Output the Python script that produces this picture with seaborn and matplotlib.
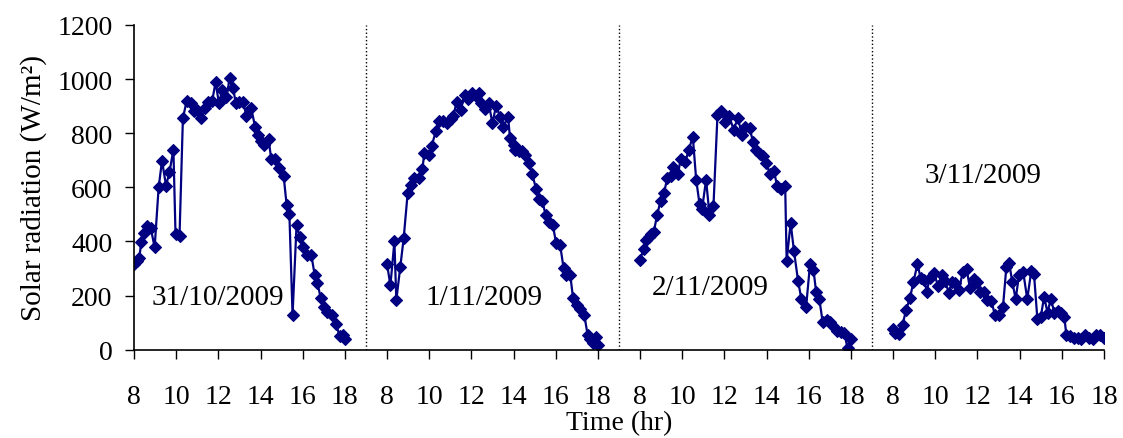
import seaborn as sns
import matplotlib.pyplot as plt
import pandas as pd
import numpy as np

# --- data (hour of day, W/m2) ---
dias = ["31/10/2009", "1/11/2009", "2/11/2009", "3/11/2009"]

d1_hr = [8.0, 8.16, 8.25, 8.35, 8.48, 8.6, 8.8, 8.98, 9.17, 9.33, 9.52, 9.68, 9.87, 9.97,
         10.16, 10.32, 10.5, 10.7, 10.86, 11.0, 11.2, 11.37, 11.52, 11.71, 11.87, 12.03,
         12.19, 12.38, 12.54, 12.7, 12.83, 13.0, 13.17, 13.33, 13.56, 13.75, 13.87, 14.0,
         14.16, 14.38, 14.51, 14.7, 14.9, 15.1, 15.24, 15.37, 15.52, 15.71, 15.87, 16.03,
         16.19, 16.41, 16.57, 16.7, 16.86, 17.0, 17.17, 17.4, 17.59, 17.75, 17.9, 18.0]
d1_val = [316, 329, 339, 399, 433, 458, 448, 378, 600, 698, 606, 655, 739, 427,
          421, 855, 920, 910, 883, 887, 855, 892, 916, 920, 988, 910,
          961, 932, 1004, 966, 910, 914, 914, 865, 892, 821, 793, 772,
          756, 778, 704, 704, 670, 640, 534, 501, 128, 462, 415, 378,
          350, 350, 276, 246, 190, 156, 138, 128, 95, 49, 54, 39]

d2_hr = [8.0, 8.16, 8.35, 8.44, 8.63, 8.79, 8.98, 9.14, 9.3, 9.52, 9.68, 9.77, 9.97,
         10.12, 10.31, 10.47, 10.66, 10.85, 11.01, 11.14, 11.3, 11.49, 11.68, 11.84, 12.03,
         12.22, 12.34, 12.47, 12.63, 12.82, 13.0, 13.17, 13.36, 13.52, 13.74, 13.83, 14.0,
         14.09, 14.25, 14.41, 14.56, 14.72, 14.88, 15.07, 15.23, 15.36, 15.52, 15.67, 15.86,
         16.02, 16.21, 16.37, 16.5, 16.69, 16.82, 17.0, 17.16, 17.35, 17.51, 17.64, 17.76,
         17.89, 18.0]
d2_val = [316, 238, 400, 183, 307, 412, 580, 607, 634, 634, 669, 728, 718,
          753, 807, 845, 845, 836, 852, 864, 914, 885, 941, 926, 947,
          939, 947, 910, 889, 910, 836, 902, 861, 824, 861, 783, 755,
          737, 733, 733, 721, 691, 650, 594, 555, 551, 498, 471, 461,
          394, 386, 303, 275, 275, 192, 167, 149, 130, 56, 40, 25,
          47, 19]

d3_hr = [8.0, 8.17, 8.27, 8.4, 8.52, 8.65, 8.81, 8.97, 9.13, 9.29, 9.45, 9.57, 9.8, 9.92,
         10.15, 10.31, 10.5, 10.66, 10.82, 10.94, 11.13, 11.29, 11.48, 11.67, 11.83, 12.02,
         12.21, 12.44, 12.63, 12.85, 12.98, 13.2, 13.36, 13.52, 13.68, 13.83, 13.99, 14.15,
         14.34, 14.5, 14.66, 14.88, 14.95, 15.14, 15.3, 15.49, 15.65, 15.87, 16.06, 16.22,
         16.35, 16.5, 16.66, 16.86, 17.01, 17.17, 17.33, 17.52, 17.68, 17.84, 18.0]
d3_val = [333, 372, 405, 415, 427, 436, 498, 550, 579, 633, 640, 674, 649, 704,
          695, 739, 787, 628, 538, 520, 628, 498, 532, 867, 883, 842,
          865, 813, 855, 793, 821, 818, 766, 739, 723, 717, 690, 649,
          661, 606, 594, 606, 329, 468, 363, 255, 187, 156, 317, 296,
          212, 187, 101, 111, 101, 89, 70, 64, 62, 5, 39]

d4_hr = [8.0, 8.1, 8.29, 8.45, 8.61, 8.8, 8.96, 9.15, 9.31, 9.47, 9.6, 9.73, 9.92,
         10.14, 10.3, 10.46, 10.65, 10.78, 10.94, 11.13, 11.29, 11.48, 11.64, 11.83, 11.96,
         12.12, 12.31, 12.47, 12.66, 12.82, 13.02, 13.21, 13.37, 13.5, 13.65, 13.81, 13.97,
         14.17, 14.36, 14.55, 14.68, 14.84, 15.0, 15.16, 15.32, 15.48, 15.64, 15.8, 15.96,
         16.12, 16.21, 16.37, 16.56, 16.75, 16.91, 17.11, 17.27, 17.46, 17.62, 17.81, 18.0]
d4_val = [78, 63, 59, 93, 146, 192, 249, 316, 264, 258, 214, 266, 282,
          237, 276, 254, 208, 249, 245, 220, 286, 298, 229, 261, 249,
          214, 214, 183, 180, 130, 130, 159, 307, 320, 251, 187, 276,
          286, 187, 291, 279, 113, 121, 196, 137, 189, 137, 142, 134,
          121, 56, 51, 43, 43, 41, 53, 43, 41, 53, 56, 43]

# posicion del texto de cada dia (hora, W/m2)
txt_hr = [8.85, 9.8, 8.55, 9.5]
txt_val = [195, 195, 231, 645]

y_ticks = [0, 200, 400, 600, 800, 1000, 1200]
hour_labels = ["8", "10", "12", "14", "16", "18"]

# --- armar DataFrame (cada dia desplazado 12 h en el eje) ---
horas = [d1_hr, d2_hr, d3_hr, d4_hr]
valores = [d1_val, d2_val, d3_val, d4_val]
frames = []
for i, (h, v) in enumerate(zip(horas, valores)):
    frames.append(pd.DataFrame({"t": np.array(h) + 12 * i, "rad": v, "dia": dias[i]}))
df = pd.concat(frames, ignore_index=True)

sns.set_style("ticks")
plt.rcParams['font.family'] = ['Liberation Serif', 'DejaVu Serif']
plt.rcParams['text.color'] = 'black'
plt.rcParams['axes.labelcolor'] = 'black'
plt.rcParams['xtick.color'] = 'black'
plt.rcParams['ytick.color'] = 'black'

fig = plt.figure(figsize=(11.23, 4.39), dpi=100)
ax = fig.add_axes([0.1193, 0.2011, 0.8638, 0.7399])

sns.lineplot(data=df, x="t", y="rad", hue="dia", palette=["#000080"] * 4,
             marker="D", markersize=6, markeredgewidth=0.8, markeredgecolor="#000080",
             linewidth=1.6, estimator=None, sort=False, legend=False, ax=ax)

# separadores punteados entre dias
for i in range(1, 4):
    ax.axvline(7 + 12 * i, color="black", linestyle=":", linewidth=1)

for i in range(4):
    ax.text(txt_hr[i] + 12 * i, txt_val[i], dias[i], fontsize=21, ha="left", va="center")

ax.set_xlim(8, 54)
ax.set_ylim(0, 1200)
ax.set_xticks(np.arange(8, 55, 2))
ax.set_xticklabels(hour_labels * 4)
ax.set_yticks(y_ticks)
ax.tick_params(axis="x", direction="out", length=6.5, width=1, pad=18, labelsize=20)
ax.tick_params(axis="y", direction="out", length=6.5, width=1, pad=9, labelsize=20)

sns.despine(ax=ax)
for s in ["left", "bottom"]:
    ax.spines[s].set_linewidth(1.2)
    ax.spines[s].set_color("black")

ax.set_xlabel("Time (hr)", fontsize=20, labelpad=0, va="bottom")
ax.set_ylabel("Solar radiation (W/m²)", fontsize=21)
ax.xaxis.set_label_coords(0.5, -0.263)
ax.yaxis.set_label_coords(-0.09, 0.5)

fig.savefig("out.png", dpi=100)
